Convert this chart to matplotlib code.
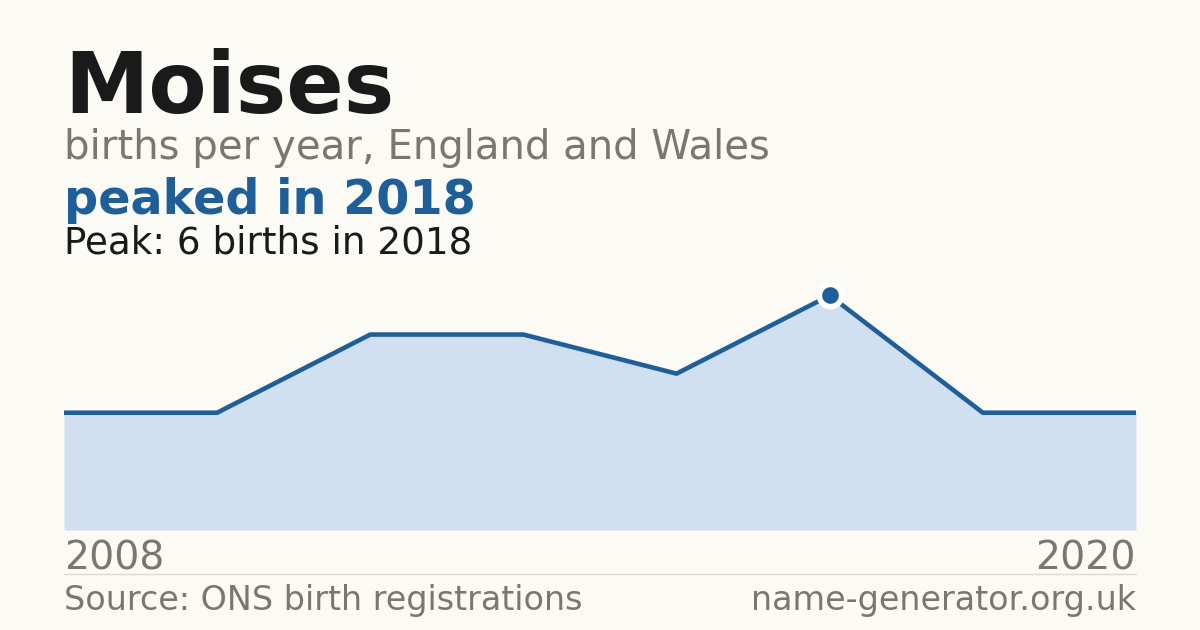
import matplotlib.pyplot as plt
import numpy as np

# data (only years with published counts)
years = [2008, 2009, 2011, 2013, 2016, 2018, 2019, 2020]
births = [3, 3, 5, 5, 4, 6, 3, 3]

name = "Moises"
subtitle = "births per year, England and Wales"
headline = "peaked in 2018"
peak_note = "Peak: 6 births in 2018"
source = "Source: ONS birth registrations"
site = "name-generator.org.uk"

bg = '#fbfaf5'
blue = '#1f5f99'
fill_blue = '#d0e0f0'
grey = '#7a7670'
dark = '#1a1a1a'

W, H = 1200, 630
fig = plt.figure(figsize=(W / 100, H / 100), dpi=100, facecolor=bg)

def fx(px):
    return px / W

def fy(py):
    return 1 - py / H

x0, x1 = 64, 1136
ax = fig.add_axes([fx(x0), fy(530), fx(x1) - fx(x0), fy(272) - fy(530)])
ax.set_facecolor(bg)
idx = np.arange(len(years))
ax.fill_between(idx, births, 0, color=fill_blue, lw=0)
ax.plot(idx, births, color=blue, lw=3.3, solid_joinstyle='round')
ipk = int(np.argmax(births))
ax.plot(idx[ipk], births[ipk], 'o', ms=16, color=blue, mec='white', mew=4, clip_on=False)
ax.set_xlim(idx[0], idx[-1])
ax.set_ylim(0, max(births) * 1.1)
ax.axis('off')

fig.text(fx(x0), fy(113), name, fontsize=61, fontweight='bold', color=dark, va='baseline')
fig.text(fx(x0), fy(159), subtitle, fontsize=29, color=grey, va='baseline')
fig.text(fx(x0), fy(214), headline, fontsize=34.4, fontweight='bold', color=blue, va='baseline')
fig.text(fx(x0), fy(253), peak_note, fontsize=26.8, color=dark, va='baseline')

fig.text(fx(x0), fy(569), str(years[0]), fontsize=28.4, color=grey, va='baseline')
fig.text(fx(x1), fy(569), str(years[-1]), fontsize=28.4, color=grey, va='baseline', ha='right')

fig.add_artist(plt.Line2D([fx(x0), fx(x1)], [fy(574), fy(574)], color='#dcdad4', lw=1))

fig.text(fx(x0), fy(610), source, fontsize=24, color=grey, va='baseline')
fig.text(fx(x1), fy(610), site, fontsize=24, color=grey, va='baseline', ha='right')

fig.savefig('out.png', dpi=100, facecolor=bg)
